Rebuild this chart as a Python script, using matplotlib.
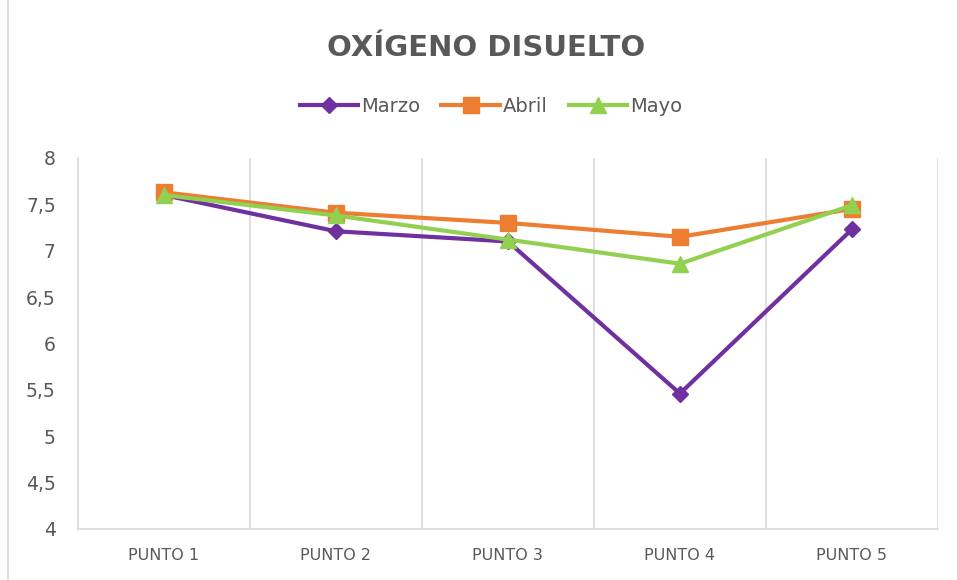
import matplotlib

matplotlib.use("Agg")
import matplotlib.pyplot as plt
from matplotlib.patches import Rectangle

categories = ["PUNTO 1", "PUNTO 2", "PUNTO 3", "PUNTO 4", "PUNTO 5"]
marzo = [7.60, 7.21, 7.10, 5.46, 7.23]
abril = [7.63, 7.41, 7.30, 7.15, 7.45]
mayo = [7.60, 7.38, 7.12, 6.86, 7.49]

series = [
    ("Marzo", marzo, "#7030A0", "D", 8.5),
    ("Abril", abril, "#ED7D31", "s", 11),
    ("Mayo", mayo, "#92D050", "^", 11),
]

plt.rcParams["font.family"] = ["DejaVu Sans"]
text_color = "#595959"
grid_color = "#d9d9d9"

fig = plt.figure(figsize=(9.57, 5.8), dpi=100)
ax = fig.add_axes([0.0815, 0.088, 0.8985, 0.6396])

x = list(range(len(categories)))
for name, vals, color, marker, ms in series:
    ax.plot(x, vals, color=color, lw=3, marker=marker, markersize=ms,
            label=name, solid_joinstyle="round")

ax.set_xlim(-0.5, len(categories) - 0.5)
ax.set_ylim(4, 8)
ax.set_yticks([4, 4.5, 5, 5.5, 6, 6.5, 7, 7.5, 8])
ax.set_yticklabels(["4", "4,5", "5", "5,5", "6", "6,5", "7", "7,5", "8"])
ax.set_xticks(x)
ax.set_xticklabels(categories)
ax.set_xticks([i + 0.5 for i in x], minor=True)
ax.grid(True, axis="x", which="minor", color=grid_color, lw=1.2)
ax.tick_params(axis="both", which="both", length=0)
ax.tick_params(axis="y", labelsize=13.5, labelcolor=text_color, pad=16)
ax.tick_params(axis="x", labelsize=11.5, labelcolor=text_color, pad=14)

for side in ["top", "right"]:
    ax.spines[side].set_visible(False)
for side in ["left", "bottom"]:
    ax.spines[side].set_color(grid_color)
    ax.spines[side].set_linewidth(1.2)

fig.text(0.508, 0.918, "OXÍGENO DISUELTO", ha="center", va="center",
         fontsize=21, fontweight="bold", color=text_color)

fig.legend(loc="center", bbox_to_anchor=(0.513, 0.817), ncol=3, frameon=False,
           fontsize=14, handlelength=3.0, columnspacing=1.1, handletextpad=0.15,
           labelcolor=text_color)

fig.patches.append(Rectangle((8 / 957, -0.01), 1.0, 1.02, transform=fig.transFigure,
                             fill=False, edgecolor=grid_color, lw=1.2))

fig.savefig("out.png", dpi=100)
plt.close(fig)
